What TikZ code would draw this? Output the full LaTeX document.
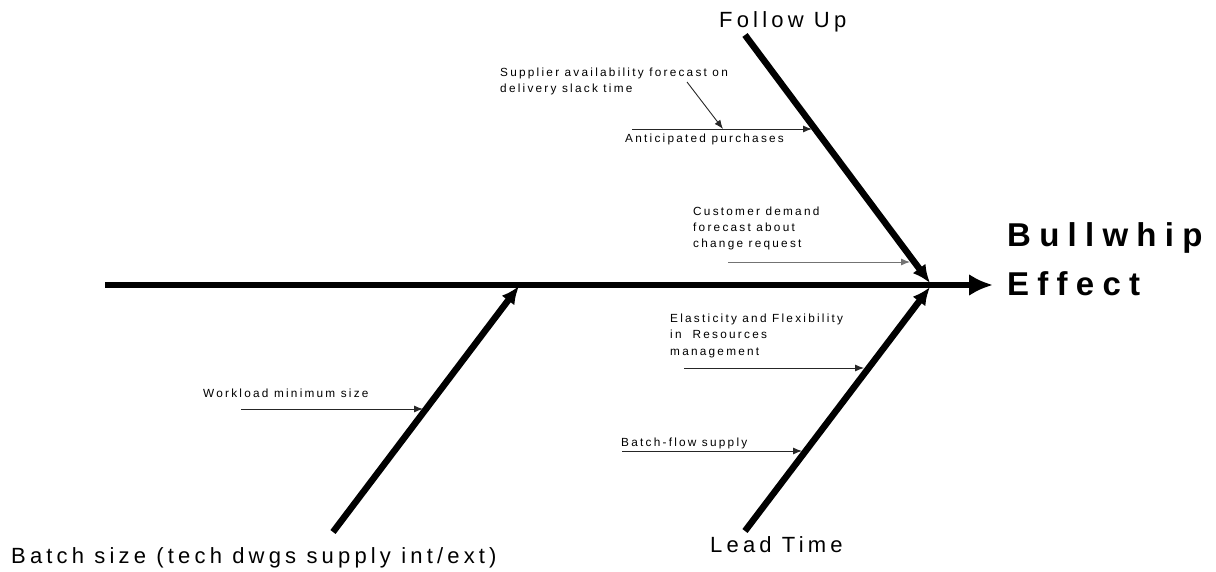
\documentclass[tikz,border=0pt]{standalone}
\usepackage{fontspec}
\setmainfont{Liberation Sans}
\newfontfamily\bigfont[LetterSpace=19]{Liberation Sans}
\newfontfamily\smallfont[LetterSpace=19]{Liberation Sans}
\newfontfamily\effectfont[LetterSpace=25]{Liberation Sans Bold}
\usetikzlibrary{arrows.meta}
\begin{document}
\begin{tikzpicture}[x=1pt,y=-1pt,
  bone/.style={line width=6.5pt,-{Latex[length=18pt,width=16pt]}},
  spine/.style={line width=6.5pt,-{Latex[length=24pt,width=22pt]}},
  twig/.style={line width=0.9pt,black!85,-{Latex[length=9pt,width=7pt]}},
  small/.style={inner sep=0pt,anchor=base west,font=\smallfont\fontsize{11.8}{16}\selectfont},
  big/.style={inner sep=0pt,anchor=base west,font=\bigfont\fontsize{22}{26}\selectfont},
  effect/.style={inner sep=0pt,anchor=base west,font=\effectfont\fontsize{33}{40}\selectfont}]
\useasboundingbox (0,0) rectangle (1216,572);
% coordinates
\coordinate (spineS) at (105,285);
\coordinate (spineE) at (993,285);
\coordinate (fuS) at (745,35);
\coordinate (fuE) at (930,283);
\coordinate (ltS) at (745,531);
\coordinate (ltE) at (930,287);
\coordinate (bsS) at (333,532);
\coordinate (bsE) at (519,286);
% twig end points
\coordinate (apS) at (632,129);
\coordinate (apE) at (812,129);
\coordinate (apM) at (723,129);
\coordinate (saS) at (687,82);
\coordinate (cdS) at (728,262);
\coordinate (cdE) at (910,262);
\coordinate (elS) at (684,368);
\coordinate (elE) at (864,368);
\coordinate (bfS) at (622,451);
\coordinate (bfE) at (802,451);
\coordinate (wlS) at (241,409);
\coordinate (wlE) at (423,409);
% main lines
\draw[spine] (spineS) -- (spineE);
\draw[bone] (fuS) -- (fuE);
\draw[bone] (ltS) -- (ltE);
\draw[bone] (bsS) -- (bsE);
% twigs
\draw[twig] (apS) -- (apE);
\draw[twig] (saS) -- (apM);
\draw[twig,black!55] (cdS) -- (cdE);
\draw[twig] (elS) -- (elE);
\draw[twig] (bfS) -- (bfE);
\draw[twig] (wlS) -- (wlE);
% labels
\node[big] (fu) at (719,28) {Follow Up};
\node[big] (lt) at (710,552) {Lead Time};
\node[big] (bs) at (11,563) {Batch size (tech dwgs supply int/ext)};
\node[effect] (ef1) at (1007,247) {Bullwhip};
\node[effect] (ef2) at (1007,295) {Effect};
\node[small] (sa1) at (500,77) {Supplier availability forecast on};
\node[small] (sa2) at (500,93) {delivery slack time};
\node[small] (ap) at (625,143) {Anticipated purchases};
\node[small] (cd1) at (693,216) {Customer demand};
\node[small] (cd2) at (693,232) {forecast about};
\node[small] (cd3) at (693,248) {change request};
\node[small] (el1) at (670,322) {Elasticity and Flexibility};
\node[small] (el2) at (670,338) {in\ \ Resources};
\node[small] (el3) at (670,355) {management};
\node[small] (bf) at (621,446) {Batch-flow supply};
\node[small] (wl) at (203,397) {Workload minimum size};
\end{tikzpicture}
\end{document}
